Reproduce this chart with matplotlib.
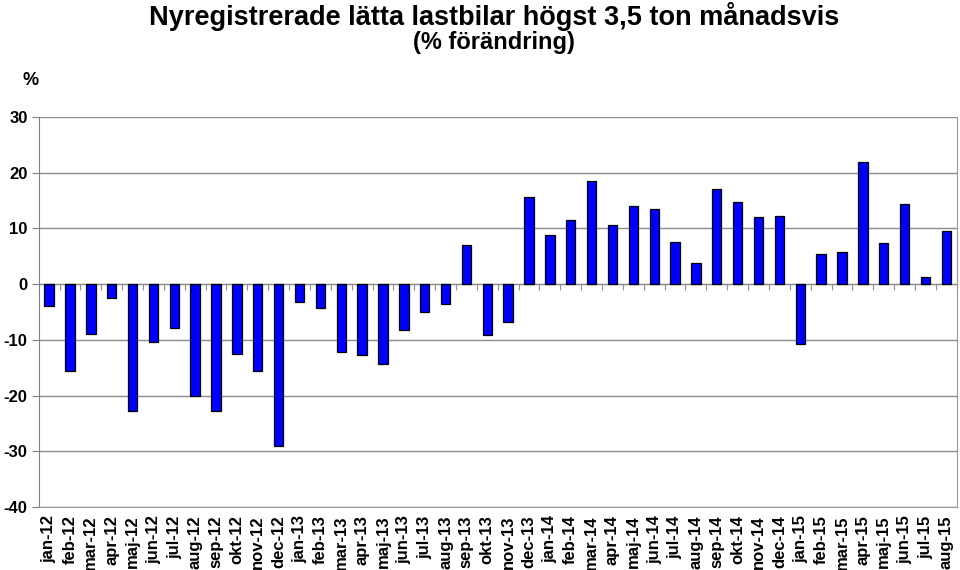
import numpy as np
import matplotlib.pyplot as plt

plt.rcParams['font.family'] = ['Liberation Sans', 'DejaVu Sans']
plt.rcParams['axes.unicode_minus'] = False

manader = ["jan", "feb", "mar", "apr", "maj", "jun",
           "jul", "aug", "sep", "okt", "nov", "dec"]
etiketter = [f"{m}-{y}" for y in ("12", "13", "14") for m in manader]
etiketter += [f"{m}-15" for m in manader[:8]]

forandring = [-3.9, -15.6, -9.0, -2.5, -22.7, -10.4, -7.8, -20.1, -22.8, -12.6, -15.6, -29.0,
              -3.2, -4.2, -12.1, -12.8, -14.3, -8.2, -5.0, -3.5, 7.1, -9.2, -6.8, 15.7,
              8.9, 11.6, 18.6, 10.6, 14.0, 13.5, 7.5, 3.8, 17.1, 14.7, 12.0, 12.2,
              -10.7, 5.5, 5.7, 22.0, 7.4, 14.4, 1.2, 9.5]

fig = plt.figure(figsize=(9.6, 5.7), dpi=100)
ax = fig.add_axes([0.0403, 0.1105, 0.9563, 0.6842])

x = np.arange(len(forandring))
ax.bar(x, forandring, width=0.45, color="#0000ff", edgecolor="black",
       linewidth=0.9, zorder=3)

ax.set_xlim(-0.5, len(forandring) - 0.5)
ax.set_ylim(-40, 30)
ax.set_yticks(np.arange(-40, 31, 10))
ax.grid(axis="y", color="#8c8c8c", linewidth=1.0, zorder=0)

for s in ("top", "right", "bottom"):
    ax.spines[s].set_color("#9a9a9a")
ax.spines["left"].set_color("#808080")
ax.spines["top"].set_visible(False)

ax.tick_params(axis="y", length=5, color="#808080", labelsize=12, pad=3)
for lab in ax.get_yticklabels():
    lab.set_fontweight("bold")

ax.set_xticks(x)
ax.set_xticklabels(etiketter, rotation=90, fontsize=12, fontweight="bold",
                   va="top")
ax.tick_params(axis="x", length=0, pad=6)

# axellinje vid 0 med små streck mellan kategorierna
sec = ax.secondary_xaxis(40 / 70)
sec.set_xticks(np.arange(-0.5, len(forandring), 1.0))
sec.tick_params(axis="x", direction="out", length=4, color="#909090",
                labelbottom=False, labeltop=False, bottom=True, top=False)
sec.spines["bottom"].set_color("#909090")
sec.spines["top"].set_color("#909090")

fig.text(0.515, 0.997, "Nyregistrerade lätta lastbilar högst 3,5 ton månadsvis",
         ha="center", va="top", fontsize=19.5, fontweight="bold")
fig.text(0.514, 0.945, "(% förändring)", ha="center", va="top",
         fontsize=17, fontweight="bold")
fig.text(0.032, 0.858, "%", ha="center", va="center", fontsize=13,
         fontweight="bold")

fig.savefig("out.png", dpi=100)
